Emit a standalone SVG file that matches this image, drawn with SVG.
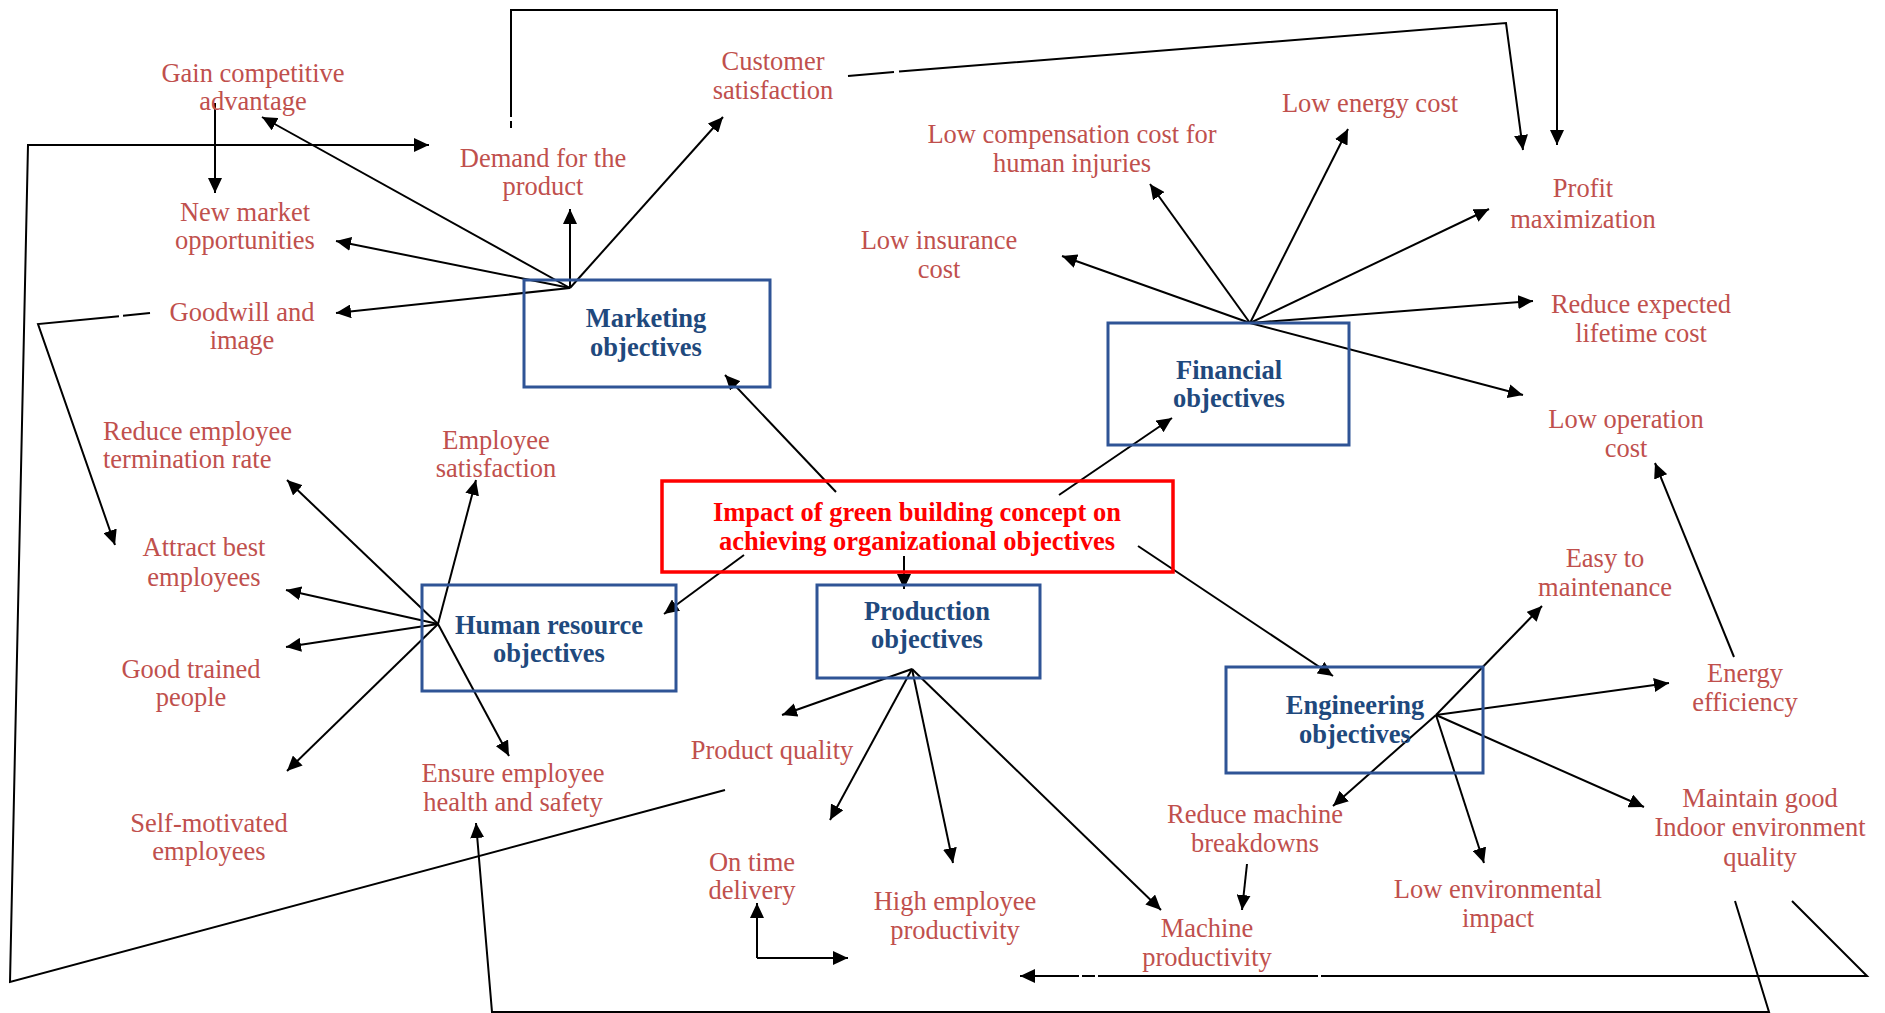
<svg xmlns="http://www.w3.org/2000/svg" width="1885" height="1013" viewBox="0 0 1885 1013">
<style>
text{font-family:"Liberation Serif","Times New Roman",serif;font-size:26.5px;text-anchor:middle}
.lbl{fill:#C0504D}
.hd{fill:#1F497D;font-weight:bold}
.rd{fill:#FF0000;font-weight:bold}
.box{fill:none;stroke:#2F5496;stroke-width:3}
.rbox{fill:none;stroke:#FF0000;stroke-width:3.5}
.c line,.c path,.c polyline{stroke:#000;stroke-width:2;fill:none}
.a{marker-end:url(#ah)}
</style>
<defs>
<marker id="ah" viewBox="0 0 15 14" refX="15" refY="7" markerWidth="15" markerHeight="14" markerUnits="userSpaceOnUse" orient="auto">
<path d="M0,0 L15,7 L0,14 z" fill="#000"/>
</marker>
</defs>
<rect width="1885" height="1013" fill="#fff"/>

<g id="connectors" class="c">
<!-- marketing hub -->
<line class="a" x1="570" y1="288" x2="262" y2="117"/>
<line class="a" x1="570" y1="288" x2="570" y2="209"/>
<line class="a" x1="570" y1="288" x2="723" y2="117"/>
<line class="a" x1="570" y1="288" x2="336" y2="241"/>
<line class="a" x1="570" y1="288" x2="336" y2="313"/>
<line class="a" x1="215" y1="103" x2="215" y2="193"/>
<polyline class="a" points="725,790 10,982 28,145 429,145"/>
<path class="a" d="M150,313 L123,315.8 M119,316.2 L38,324 L115,545"/>
<path class="a" d="M511,128 L511,121 M511,117 L511,10 L1557,10 L1557,145"/>
<path class="a" d="M848,76 L894,72 M899,71.6 L1506,23 L1523,150"/>
<!-- financial hub -->
<line class="a" x1="1250" y1="323" x2="1062" y2="256"/>
<line class="a" x1="1250" y1="323" x2="1150" y2="184"/>
<line class="a" x1="1250" y1="323" x2="1348" y2="129"/>
<line class="a" x1="1250" y1="323" x2="1489" y2="209"/>
<line class="a" x1="1250" y1="323" x2="1533" y2="301"/>
<line class="a" x1="1250" y1="323" x2="1523" y2="395"/>
<!-- central -->
<line class="a" x1="836" y1="492" x2="725" y2="375"/>
<line class="a" x1="1059" y1="495" x2="1172" y2="418"/>
<line class="a" x1="744" y1="555" x2="664" y2="614"/>
<line class="a" x1="904" y1="556" x2="904" y2="589"/>
<line class="a" x1="1138" y1="546" x2="1333" y2="676"/>
<!-- HR hub -->
<line class="a" x1="438" y1="624" x2="287" y2="480"/>
<line class="a" x1="438" y1="624" x2="476" y2="480"/>
<line class="a" x1="438" y1="624" x2="286" y2="590"/>
<line class="a" x1="438" y1="624" x2="286" y2="647"/>
<line class="a" x1="438" y1="624" x2="287" y2="771"/>
<line class="a" x1="438" y1="624" x2="509" y2="756"/>
<!-- production hub -->
<line class="a" x1="912" y1="669" x2="782" y2="715"/>
<line class="a" x1="912" y1="669" x2="830" y2="820"/>
<line class="a" x1="912" y1="669" x2="953" y2="863"/>
<line class="a" x1="912" y1="669" x2="1161" y2="910"/>
<line class="a" x1="757" y1="958" x2="757" y2="903"/>
<line class="a" x1="757" y1="958" x2="848" y2="958"/>
<!-- bottom loops -->
<polyline class="a" points="1735,901 1769,1012 492,1012 476,823"/>
<path class="a" d="M1792,901 L1867,976 L1321,976 M1318,976 L1098,976 M1095,976 L1082,976 M1079,976 L1020,976"/>
<!-- engineering hub -->
<line class="a" x1="1436" y1="715" x2="1542" y2="606"/>
<line class="a" x1="1436" y1="715" x2="1333" y2="806"/>
<line class="a" x1="1436" y1="715" x2="1669" y2="683"/>
<line class="a" x1="1436" y1="715" x2="1484" y2="863"/>
<line class="a" x1="1436" y1="715" x2="1644" y2="807"/>
<line class="a" x1="1734" y1="657" x2="1655" y2="463"/>
<line class="a" x1="1247" y1="864" x2="1242" y2="910"/>
</g>

<g id="central"><rect class="rbox" x="662" y="481" width="511" height="91"/><text class="rd" x="917" y="521">Impact of green building concept on</text><text class="rd" x="917" y="550">achieving organizational objectives</text></g>
<g id="marketing"><rect class="box" x="524" y="280" width="246" height="107"/><text class="hd" x="646" y="327">Marketing</text><text class="hd" x="646" y="356">objectives</text></g>
<g id="financial"><rect class="box" x="1108" y="323" width="241" height="122"/><text class="hd" x="1229" y="379">Financial</text><text class="hd" x="1229" y="407">objectives</text></g>
<g id="hr"><rect class="box" x="422" y="585" width="254" height="106"/><text class="hd" x="549" y="634">Human resource</text><text class="hd" x="549" y="662">objectives</text></g>
<g id="production"><rect class="box" x="817" y="585" width="223" height="93"/><text class="hd" x="927" y="620">Production</text><text class="hd" x="927" y="648">objectives</text></g>
<g id="engineering"><rect class="box" x="1226" y="667" width="257" height="106"/><text class="hd" x="1355" y="714">Engineering</text><text class="hd" x="1355" y="743">objectives</text></g>

<g id="gain"><text class="lbl" x="253" y="82">Gain competitive</text><text class="lbl" x="253" y="110">advantage</text></g>
<g id="customer"><text class="lbl" x="773" y="70">Customer</text><text class="lbl" x="773" y="99">satisfaction</text></g>
<g id="demand"><text class="lbl" x="543" y="167">Demand for the</text><text class="lbl" x="543" y="195">product</text></g>
<g id="newmarket"><text class="lbl" x="245" y="221">New market</text><text class="lbl" x="245" y="249">opportunities</text></g>
<g id="goodwill"><text class="lbl" x="242" y="321">Goodwill and</text><text class="lbl" x="242" y="349">image</text></g>
<g id="lowcomp"><text class="lbl" x="1072" y="143">Low compensation cost for</text><text class="lbl" x="1072" y="172">human injuries</text></g>
<g id="lowenergy"><text class="lbl" x="1370" y="112">Low energy cost</text></g>
<g id="profit"><text class="lbl" x="1583" y="197">Profit</text><text class="lbl" x="1583" y="228">maximization</text></g>
<g id="lowins"><text class="lbl" x="939" y="249">Low insurance</text><text class="lbl" x="939" y="278">cost</text></g>
<g id="reduceexp"><text class="lbl" x="1641" y="313">Reduce expected</text><text class="lbl" x="1641" y="342">lifetime cost</text></g>
<g id="lowop"><text class="lbl" x="1626" y="428">Low operation</text><text class="lbl" x="1626" y="457">cost</text></g>
<g id="termination"><text class="lbl" x="103" y="440" style="text-anchor:start">Reduce employee</text><text class="lbl" x="103" y="468" style="text-anchor:start">termination rate</text></g>
<g id="empsat"><text class="lbl" x="496" y="449">Employee</text><text class="lbl" x="496" y="477">satisfaction</text></g>
<g id="attract"><text class="lbl" x="204" y="556">Attract best</text><text class="lbl" x="204" y="586">employees</text></g>
<g id="trained"><text class="lbl" x="191" y="678">Good trained</text><text class="lbl" x="191" y="706">people</text></g>
<g id="selfmot"><text class="lbl" x="209" y="832">Self-motivated</text><text class="lbl" x="209" y="860">employees</text></g>
<g id="ensure"><text class="lbl" x="513" y="782">Ensure employee</text><text class="lbl" x="513" y="811">health and safety</text></g>
<g id="quality"><text class="lbl" x="772" y="759">Product quality</text></g>
<g id="ontime"><text class="lbl" x="752" y="871">On time</text><text class="lbl" x="752" y="899">delivery</text></g>
<g id="highemp"><text class="lbl" x="955" y="910">High employee</text><text class="lbl" x="955" y="939">productivity</text></g>
<g id="machprod"><text class="lbl" x="1207" y="937">Machine</text><text class="lbl" x="1207" y="966">productivity</text></g>
<g id="breakdowns"><text class="lbl" x="1255" y="823">Reduce machine</text><text class="lbl" x="1255" y="852">breakdowns</text></g>
<g id="lowenv"><text class="lbl" x="1498" y="898">Low environmental</text><text class="lbl" x="1498" y="927">impact</text></g>
<g id="ieq"><text class="lbl" x="1760" y="807">Maintain good</text><text class="lbl" x="1760" y="836">Indoor environment</text><text class="lbl" x="1760" y="866">quality</text></g>
<g id="easy"><text class="lbl" x="1605" y="567">Easy to</text><text class="lbl" x="1605" y="596">maintenance</text></g>
<g id="energy"><text class="lbl" x="1745" y="682">Energy</text><text class="lbl" x="1745" y="711">efficiency</text></g>
</svg>
